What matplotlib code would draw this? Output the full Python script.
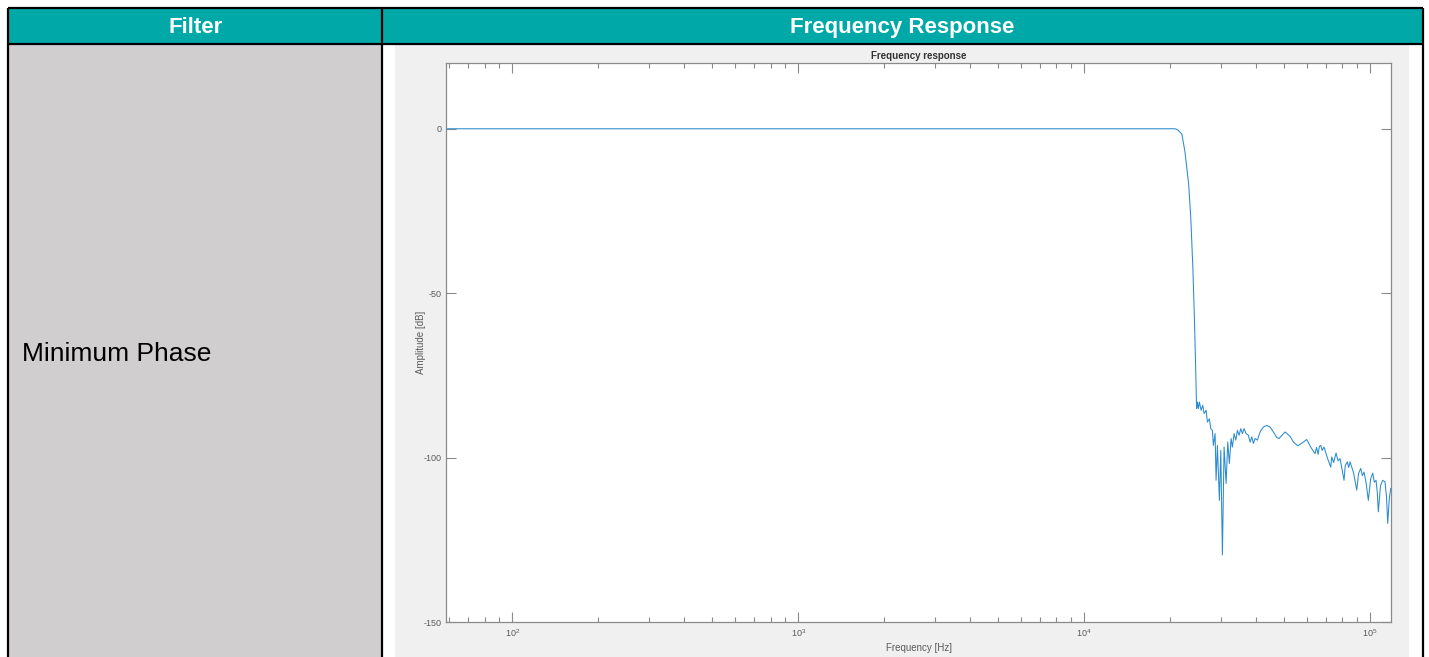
import matplotlib
matplotlib.use("Agg")
import matplotlib.pyplot as plt
from matplotlib.patches import Rectangle
from matplotlib.ticker import LogLocator, NullFormatter

plt.rcParams["font.family"] = ["Liberation Sans", "DejaVu Sans"]
plt.rcParams["axes.unicode_minus"] = False

TEAL = "#00A9A8"; CELL = "#D0CECE"; PANEL = "#F0F0F0"; LINE = "#2a8bd0"
AX = "#8a8a8a"; TXT = "#5a5a5a"

headers = ["Filter", "Frequency Response"]
row_label = "Minimum Phase"

# frequency response (Hz, dB)
freq = [58.6, 20400, 20800, 21300, 21960, 22500, 23200, 23600, 24000, 24300,
        24550, 24700, 24750, 24900, 25100, 25300, 25650, 26000, 26280, 26710,
        26990, 27430, 27730, 28090, 28320, 28710, 28940, 29250, 29720, 30060,
        30450, 30870, 31370, 31800, 32210, 32660, 33000, 33460, 33920, 34360,
        34830, 35310, 35770, 36260, 36850, 37540, 38050, 38580, 39080, 39620,
        40360, 41250, 42360, 43530, 44700, 45910, 47180, 48060, 50440, 52500,
        54000, 55800, 57800, 60070, 62000, 64230, 65000, 65800, 66500, 67240,
        68000, 69060, 70180, 71200, 72880, 73470, 74600, 76050, 77300, 78540,
        79800, 81110, 81900, 83290, 84200, 85120, 87500, 89840, 91200, 92790,
        94000, 95280, 96800, 98650, 100500, 102200, 103500, 104950, 106000,
        106900, 108800, 110800, 112800, 114200, 115300, 116800, 118100]
amp = [0, 0, 0, -0.4, -1.6, -6.7, -16.7, -26.9, -42.1, -57.3,
       -72.5, -82.6, -85.1, -83.1, -85.1, -83.1, -85.6, -84.1, -86.6, -85.6,
       -89.2, -88.2, -91.2, -91.7, -96.3, -92.7, -106.9, -96.3, -113.0, -97.8,
       -129.6, -96.8, -107.9, -95.3, -101.8, -94.2, -96.8, -92.7, -94.7, -91.7,
       -93.2, -91.2, -92.7, -91.2, -92.7, -93.2, -95.3, -93.7, -95.7, -94.2,
       -94.7, -92.2, -90.7, -90.2, -90.7, -92.2, -93.9, -94.2, -92.2, -93.5,
       -95.3, -96.4, -95.6, -94.5, -96.8, -98.8, -96.9, -99.0, -96.6, -96.3,
       -97.8, -96.8, -98.8, -100.5, -102.9, -99.8, -101.5, -98.6, -101.0, -100.3,
       -103.5, -106.9, -102.5, -101.3, -103.0, -101.3, -104.5, -109.9, -104.8, -103.3,
       -105.5, -104.4, -107.5, -113.0, -106.5, -104.7, -107.5, -106.9, -110.5,
       -116.5, -108.5, -106.9, -107.4, -112.0, -120.0, -112.5, -109.4]

fig = plt.figure(figsize=(14.29, 6.57), dpi=100)

# table background, in pixel units
bg = fig.add_axes([0, 0, 1, 1])
bg.set_xlim(0, 1429); bg.set_ylim(657, 0); bg.axis("off")
bg.add_patch(Rectangle((8, 8), 1415, 36, color=TEAL, lw=0))
bg.add_patch(Rectangle((9, 44), 373, 613, color=CELL, lw=0))
bg.add_patch(Rectangle((395, 45), 1014, 612, color=PANEL, lw=0))
for y in (8, 44):
    bg.plot([8, 1423], [y, y], color="black", lw=1.6, solid_capstyle="butt")
for x in (8, 382, 1423):
    bg.plot([x, x], [8, 657], color="black", lw=1.6, solid_capstyle="butt")
bg.text(196, 33, headers[0], color="white", fontsize=16, fontweight="bold",
        ha="center", va="baseline")
bg.text(902, 33, headers[1], color="white", fontsize=16, fontweight="bold",
        ha="center", va="baseline")
bg.text(22, 354, row_label, color="black", fontsize=19, ha="left", va="center")

# MATLAB-style plot
ax = fig.add_axes([446 / 1429, 1 - 622 / 657, 945 / 1429, 559 / 657])
ax.semilogx(freq, amp, color=LINE, lw=0.75)
ax.set_xlim(58.6, 118400)
ax.set_ylim(-150, 20)
ax.set_yticks([0, -50, -100, -150])
ax.xaxis.set_major_locator(LogLocator(base=10))
ax.xaxis.set_minor_locator(LogLocator(base=10, subs=range(2, 10)))
ax.xaxis.set_minor_formatter(NullFormatter())
ax.tick_params(which="both", direction="in", top=True, right=True,
               colors=AX, labelcolor=TXT, labelsize=6.5, width=0.8)
ax.tick_params(which="major", length=7)
ax.tick_params(which="minor", length=3.5)
for s in ax.spines.values():
    s.set_color(AX); s.set_linewidth(0.9)
ax.set_title("Frequency response", fontsize=7, fontweight="bold", color="#333333", pad=3)
ax.set_xlabel("Frequency [Hz]", fontsize=7, color=TXT, labelpad=3)
ax.set_ylabel("Amplitude [dB]", fontsize=7, color=TXT, labelpad=-2)

fig.savefig("out.png", dpi=100)
